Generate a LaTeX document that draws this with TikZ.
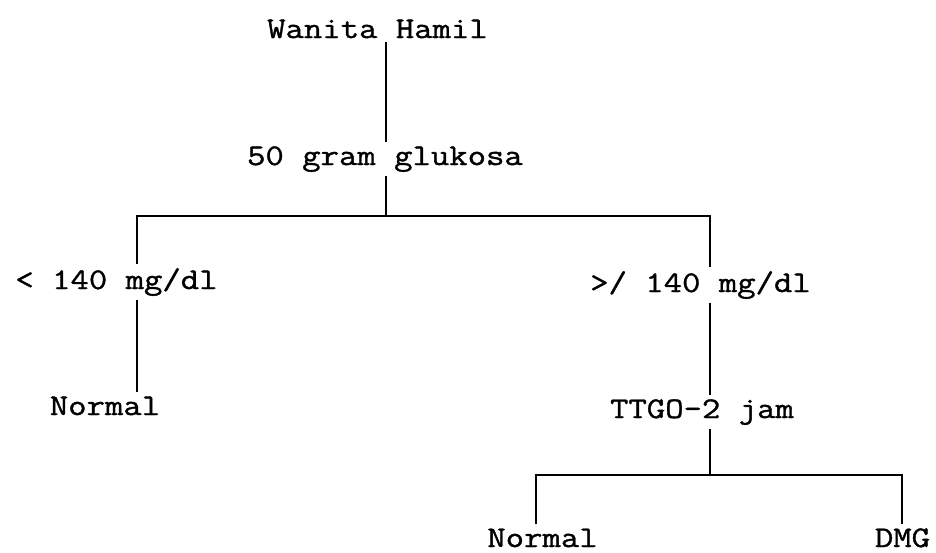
\documentclass[tikz,border=0pt]{standalone}
\usepackage{fontspec}
\newfontfamily\courlike{Latin Modern Mono}[FakeStretch=1.19, FakeBold=1.2]
\begin{document}
\begin{tikzpicture}[x=1pt,y=-1pt,
  lbl/.style={anchor=base, inner xsep=0pt, inner ysep=4pt, font=\courlike\fontsize{30}{36}\selectfont},
  conn/.style={draw=black, line width=1.4pt}]
\useasboundingbox (0,0) rectangle (936,552);
\node[lbl] (wh) at (377.5,38) {Wanita Hamil};
\node[lbl] (gg) at (385,165) {50 gram glukosa};
\node[lbl] (lt) at (116.5,289) {< 140 mg/dl};
\node[lbl] (nl) at (105,415) {Normal};
\node[lbl] (ge) at (700.5,292) {>/ 140 mg/dl};
\node[lbl] (tt) at (702,418) {TTGO-2 jam};
\node[lbl] (nr) at (542.5,547) {Normal};
\node[lbl] (dmg) at (902.5,547) {DMG};
\coordinate (j0) at (386,216);
\coordinate (jl) at (137,216);
\coordinate (jr) at (710,216);
\coordinate (j1) at (710,475);
\coordinate (bl) at (536,475);
\coordinate (br) at (902,475);
\draw[conn] (wh.south -| j0) -- (gg.north -| j0);
\draw[conn] (gg.south -| j0) -- (j0);
\draw[conn] (lt.north -| jl) -- (jl) -- (jr) -- (ge.north -| jr);
\draw[conn] (lt.south -| jl) -- (nl.north -| jl);
\draw[conn] (ge.south -| jr) -- (tt.north -| jr);
\draw[conn] (tt.south -| j1) -- (j1);
\draw[conn] (nr.north -| bl) -- (bl) -- (br) -- (dmg.north -| br);
\end{tikzpicture}
\end{document}
